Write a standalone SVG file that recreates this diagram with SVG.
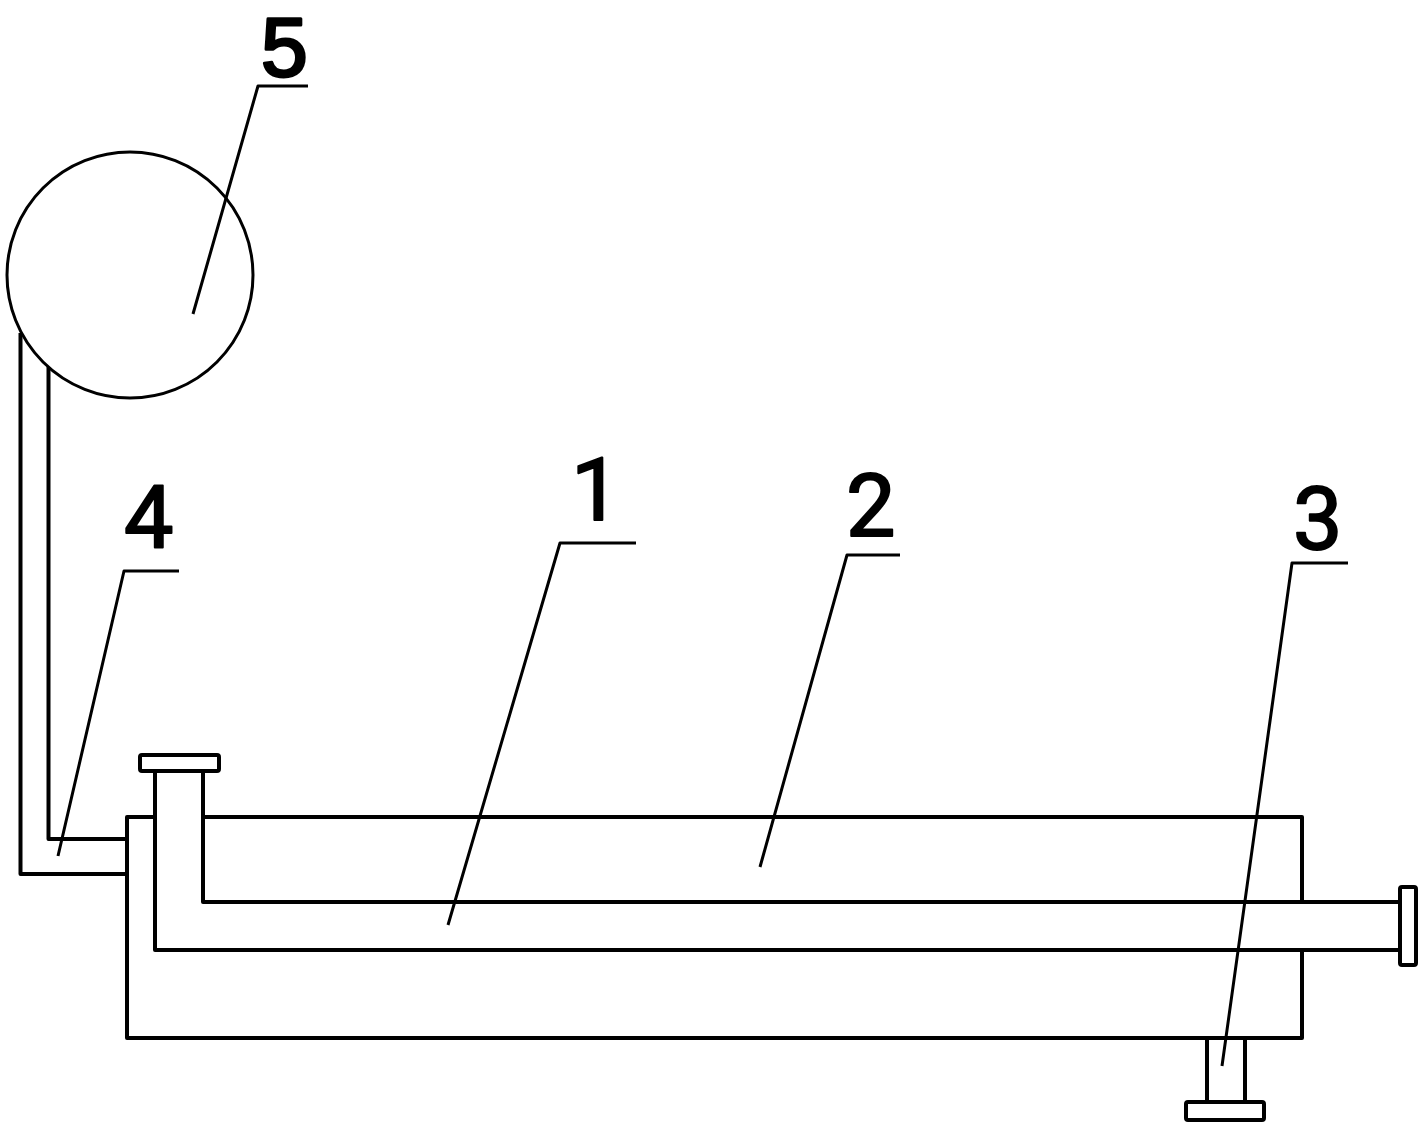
<svg xmlns="http://www.w3.org/2000/svg" width="1421" height="1128" viewBox="0 0 1421 1128">
<style>
.l{fill:none;stroke:#000;stroke-width:4;stroke-linejoin:round}
.t{stroke:#000;stroke-width:3;stroke-linejoin:round;fill:none}
.f{fill:#fff;stroke:#000;stroke-width:4;stroke-linejoin:round}
.n{font-family:Roboto,"Liberation Sans",Arial,sans-serif;font-size:88px;fill:#000;stroke:#000;stroke-width:2;stroke-linejoin:round}
.top{font-family:"Liberation Sans",Arial,sans-serif;font-size:84px;stroke-width:3}
</style>
<rect width="1421" height="1128" fill="#fff"/>
<g id="shell-2">
<path class="l" d="M155 817H127V1038H1302V950M203 817H1302V902"/>
</g>
<g id="pipe-1">
<path class="l" d="M155 771V950H1399M203 771V902H1399"/>
<rect class="f" x="140" y="755" width="79" height="16" rx="2"/>
<rect class="f" x="1400" y="887" width="16" height="78" rx="2"/>
</g>
<g id="drain-3">
<path class="l" d="M1207 1038V1102M1245 1038V1102"/>
<rect class="f" x="1186" y="1102" width="78" height="18" rx="2"/>
</g>
<g id="tube-4">
<path class="l" d="M20.500 333V874H127M48.500 367V839H127"/>
</g>
<g id="vessel-5">
<circle cx="130" cy="275" r="123" fill="none" stroke="#000" stroke-width="3"/>
</g>
<g id="connectors">
<path class="t" d="M308 86H258L193 314"/>
<path class="t" d="M179 571H124L58 856"/>
<path class="t" d="M636 543H560L448 925"/>
<path class="t" d="M900 555H847L760 867"/>
<path class="t" d="M1348 563H1292L1222 1066"/>
</g>
<g id="labels">
<text class="n top" x="261" y="76">5</text>
<text class="n" x="124" y="547">4</text>
<text class="n" x="571" y="520">1</text>
<text class="n" x="846" y="536">2</text>
<text class="n" x="1293" y="549">3</text>
</g>
</svg>
